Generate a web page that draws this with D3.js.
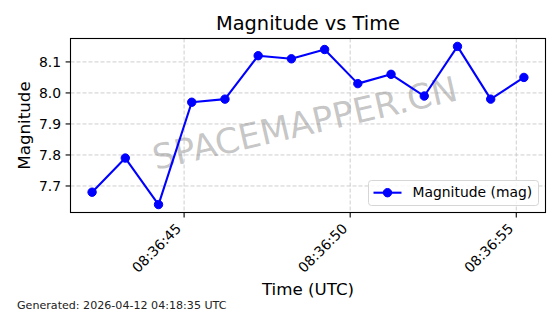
<!doctype html>
<meta charset='utf-8' />
<script src='https://cdn.jsdelivr.net/npm/d3@7'></script>
<style>
    body { margin: 0; background: #fff; }
    svg { display: block; font-family: 'DejaVu Sans', sans-serif; }
</style>
<svg></svg>
<script>
    var width = 560,
        height = 314,
        plotLeft = 70.5,
        plotRight = 545.5,
        plotTop = 38.5,
        plotBottom = 212.5

    // one reading per second
    var times = [
        '08:36:42.230', '08:36:43.230', '08:36:44.230', '08:36:45.230', '08:36:46.230',
        '08:36:47.230', '08:36:48.230', '08:36:49.230', '08:36:50.230', '08:36:51.230',
        '08:36:52.230', '08:36:53.230', '08:36:54.230', '08:36:55.230'
    ]
    var magnitudes = [7.68, 7.79, 7.64, 7.97, 7.98, 8.12, 8.11, 8.14, 8.03, 8.06, 7.99, 8.15, 7.98, 8.05]
    var yTicks = [7.7, 7.8, 7.9, 8.0, 8.1]
    var seriesName = 'Magnitude (mag)'
    var generated = 'Generated: 2026-04-12 04:18:35 UTC'

    var parse = d3.utcParse('%Y-%m-%dT%H:%M:%S.%L')
    var data = times.map((t, i) => ({ t: parse('2026-04-12T' + t), v: magnitudes[i] }))

    var svg = d3.select('svg')
        .attr('width', width)
        .attr('height', height)

    // matplotlib-like 5% margins
    var tExt = d3.extent(data, d => +d.t),
        vExt = d3.extent(data, d => d.v),
        tPad = (tExt[1] - tExt[0]) * 0.05,
        vPad = (vExt[1] - vExt[0]) * 0.05

    var x = d3.scaleUtc()
        .domain([new Date(tExt[0] - tPad), new Date(tExt[1] + tPad)])
        .range([plotLeft, plotRight])
    var y = d3.scaleLinear()
        .domain([vExt[0] - vPad, vExt[1] + vPad])
        .range([plotBottom, plotTop])

    var xTicks = x.ticks(d3.utcSecond.every(5))
    var fmt = d3.utcFormat('%H:%M:%S')

    // grid
    svg.append('g').selectAll('line')
        .data(xTicks)
        .enter()
        .append('line')
        .attr('x1', d => x(d)).attr('x2', d => x(d))
        .attr('y1', plotTop).attr('y2', plotBottom)
        .style('stroke', '#c8c8c8')
        .style('stroke-width', 0.9)
        .style('stroke-dasharray', '4,2')
    svg.append('g').selectAll('line')
        .data(yTicks)
        .enter()
        .append('line')
        .attr('x1', plotLeft).attr('x2', plotRight)
        .attr('y1', d => y(d)).attr('y2', d => y(d))
        .style('stroke', '#c8c8c8')
        .style('stroke-width', 0.9)
        .style('stroke-dasharray', '4,2')

    // watermark
    svg.append('text')
        .attr('transform', 'translate(307.5,135) rotate(-13)')
        .attr('text-anchor', 'middle')
        .attr('font-size', 34.7)
        .style('fill', '#808080')
        .style('fill-opacity', 0.45)
        .text('SPACEMAPPER.CN')

    // series
    var line = d3.line()
        .x(d => x(d.t))
        .y(d => y(d.v))

    svg.append('path')
        .datum(data)
        .attr('d', line)
        .style('fill', 'none')
        .style('stroke', 'blue')
        .style('stroke-width', 2.1)
        .style('stroke-linejoin', 'round')

    svg.append('g').selectAll('circle')
        .data(data)
        .enter()
        .append('circle')
        .attr('cx', d => x(d.t))
        .attr('cy', d => y(d.v))
        .attr('r', 4.2)
        .style('fill', 'blue')
        .style('stroke', 'blue')
        .style('stroke-width', 1)

    // frame
    svg.append('rect')
        .attr('x', plotLeft).attr('y', plotTop)
        .attr('width', plotRight - plotLeft).attr('height', plotBottom - plotTop)
        .style('fill', 'none')
        .style('stroke', 'black')
        .style('stroke-width', 1.1)

    // x ticks
    var xt = svg.append('g').selectAll('g')
        .data(xTicks)
        .enter()
        .append('g')
    xt.append('line')
        .attr('x1', d => x(d)).attr('x2', d => x(d))
        .attr('y1', plotBottom).attr('y2', plotBottom + 4.9)
        .style('stroke', 'black')
        .style('stroke-width', 1.1)
    xt.append('text')
        .attr('transform', d => 'translate(' + (x(d) - 2) + ',229.5) rotate(-45)')
        .attr('text-anchor', 'end')
        .attr('font-size', 13.9)
        .text(d => fmt(d))

    // y ticks
    var yt = svg.append('g').selectAll('g')
        .data(yTicks)
        .enter()
        .append('g')
    yt.append('line')
        .attr('x1', plotLeft - 4.9).attr('x2', plotLeft)
        .attr('y1', d => y(d)).attr('y2', d => y(d))
        .style('stroke', 'black')
        .style('stroke-width', 1.1)
    yt.append('text')
        .attr('x', plotLeft - 9.5)
        .attr('y', d => y(d))
        .attr('dy', '0.36em')
        .attr('text-anchor', 'end')
        .attr('font-size', 13.9)
        .text(d => d3.format('.1f')(d))

    // titles
    svg.append('text')
        .attr('x', (plotLeft + plotRight) / 2)
        .attr('y', 30)
        .attr('text-anchor', 'middle')
        .attr('font-size', 19.4)
        .text('Magnitude vs Time')
    svg.append('text')
        .attr('x', (plotLeft + plotRight) / 2)
        .attr('y', 295)
        .attr('text-anchor', 'middle')
        .attr('font-size', 16.7)
        .text('Time (UTC)')
    svg.append('text')
        .attr('transform', 'translate(30,' + (plotTop + plotBottom) / 2 + ') rotate(-90)')
        .attr('text-anchor', 'middle')
        .attr('font-size', 16.7)
        .text('Magnitude')

    // legend
    var lg = svg.append('g')
    lg.append('rect')
        .attr('x', 368.5).attr('y', 180.5)
        .attr('width', 170).attr('height', 25)
        .attr('rx', 3)
        .style('fill', 'white')
        .style('fill-opacity', 0.8)
        .style('stroke', '#d6d6d6')
        .style('stroke-width', 1)
    lg.append('line')
        .attr('x1', 373.5).attr('x2', 401.5)
        .attr('y1', 192.7).attr('y2', 192.7)
        .style('stroke', 'blue')
        .style('stroke-width', 2.1)
    lg.append('circle')
        .attr('cx', 387.5).attr('cy', 192.7)
        .attr('r', 4.2)
        .style('fill', 'blue')
        .style('stroke', 'blue')
        .style('stroke-width', 1)
    lg.append('text')
        .attr('x', 412.5)
        .attr('y', 197)
        .attr('font-size', 13.9)
        .text(seriesName)

    svg.append('text')
        .attr('x', 17)
        .attr('y', 309)
        .attr('font-size', 11.1)
        .style('fill', '#222')
        .text(generated)
</script>
